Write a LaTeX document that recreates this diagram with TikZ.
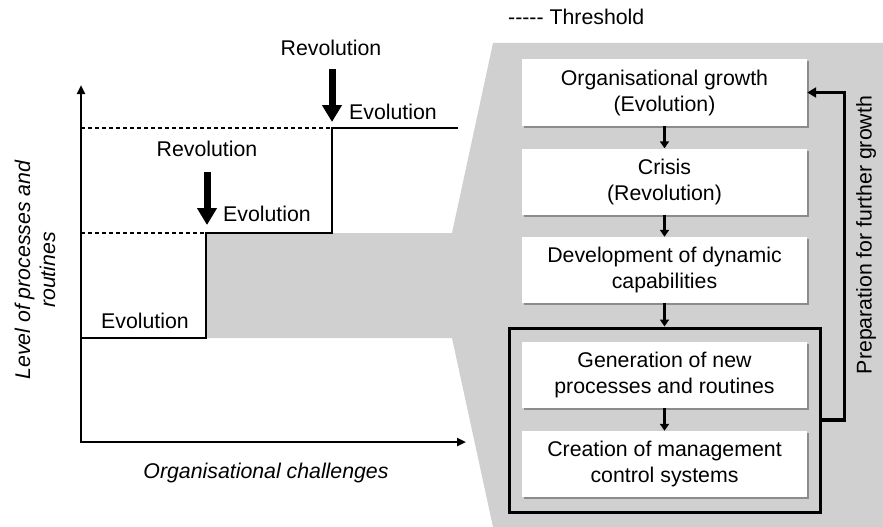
\documentclass[tikz,border=0pt]{standalone}
\usepackage{fontspec}
\setmainfont{Liberation Sans}
\usetikzlibrary{arrows.meta,shadows}
\definecolor{panelgray}{gray}{0.815}
\begin{document}
\begin{tikzpicture}[x=1pt,y=-1pt,
  every node/.style={font=\fontsize{21.3}{26}\selectfont, inner sep=0pt},
  lbl/.style={anchor=base},
  itl/.style={font=\fontsize{21.3}{25}\selectfont\itshape},
  boxnode/.style={fill=white, minimum width=285pt, minimum height=66pt, align=center,
    drop shadow={shadow xshift=2pt, shadow yshift=-2pt, fill=black!45, opacity=1}},
  framebox/.style={draw=black, line width=3pt, minimum width=311pt, minimum height=184pt},
  axis/.style={line width=2.9pt, arrows={Triangle[width=8pt,length=9pt]-Triangle[width=8pt,length=9pt]}},
  stepline/.style={line width=2.9pt},
  thresh/.style={line width=1.5pt, dash pattern=on 4pt off 3pt},
  bigarrow/.style={line width=7pt, -{Triangle[width=19pt,length=17pt]}},
  flowarrow/.style={line width=2.7pt, -{Triangle[width=9pt,length=7pt]}},
  fbarrow/.style={line width=3.2pt, -{Triangle[width=10pt,length=9pt]}}
]
\useasboundingbox (0,0) rectangle (883,527);

% gray callout panel
\fill[panelgray] (205,233) -- (452,233) -- (493,43) -- (883,43) -- (883,527)
  -- (493,527) -- (452,338) -- (205,338) -- cycle;

% legend
\node[lbl, anchor=base west] (legend) at (508,25) {-\kern0pt-\kern0pt-\kern0pt-\kern0pt- Threshold};

% axes
\coordinate (O) at (81,442);
\coordinate (ytop) at (81,85);
\coordinate (xend) at (466,442);
\draw[axis] (ytop) -- (O) -- (xend);

% steps
\coordinate (s0) at (81,338);
\coordinate (s1) at (206,338);
\coordinate (s2) at (206,233);
\coordinate (s3) at (332,233);
\coordinate (s4) at (332,128);
\coordinate (s5) at (458,128);
\draw[stepline] (s0) -- (s1) -- (s2) -- (s3) -- (s4) -- (s5);
\coordinate (t1) at (81,233);
\coordinate (t2) at (81,128);
\draw[thresh] (t1) -- (s2);
\draw[thresh] (t2) -- (s4);

% revolution arrows
\coordinate (r1a) at (332,69);
\coordinate (r1b) at (332,122);
\coordinate (r2a) at (207,172);
\coordinate (r2b) at (207,225);
\draw[bigarrow] (r1a) -- (r1b);
\draw[bigarrow] (r2a) -- (r2b);

% chart labels
\node[lbl] (rev1) at (331,56) {Revolution};
\node[lbl, anchor=base west] (evo1) at (349,119) {Evolution};
\node[lbl] (rev2) at (207,156) {Revolution};
\node[lbl, anchor=base west] (evo2) at (223,221) {Evolution};
\node[lbl] (evo3) at (145,328) {Evolution};
\node[lbl, itl] (xlab) at (266,478) {Organisational challenges};
\node[itl, rotate=90, align=center] (ylab) at (35,270) {Level of processes and\\routines};

% process boxes
\node[framebox] (frame) at (664.5,420) {};
\node[boxnode] (b1) at (664.5,92.5) {Organisational growth\\(Evolution)};
\node[boxnode] (b2) at (664.5,181.5) {Crisis\\(Revolution)};
\node[boxnode] (b3) at (664.5,270) {Development of dynamic\\capabilities};
\node[boxnode] (b4) at (664.5,374.5) {Generation of new\\processes and routines};
\node[boxnode] (b5) at (664.5,464) {Creation of management\\control systems};

\draw[flowarrow] (b1.south) -- (b2.north);
\draw[flowarrow] (b2.south) -- (b3.north);
\draw[flowarrow] (b3.south) -- (frame.north);
\draw[flowarrow] (b4.south) -- (b5.north);

\draw[fbarrow] (frame.east) -- ++(23,0) |- (b1.east);
\node[rotate=90] (prep) at (866,235) {Preparation for further growth};
\end{tikzpicture}
\end{document}
